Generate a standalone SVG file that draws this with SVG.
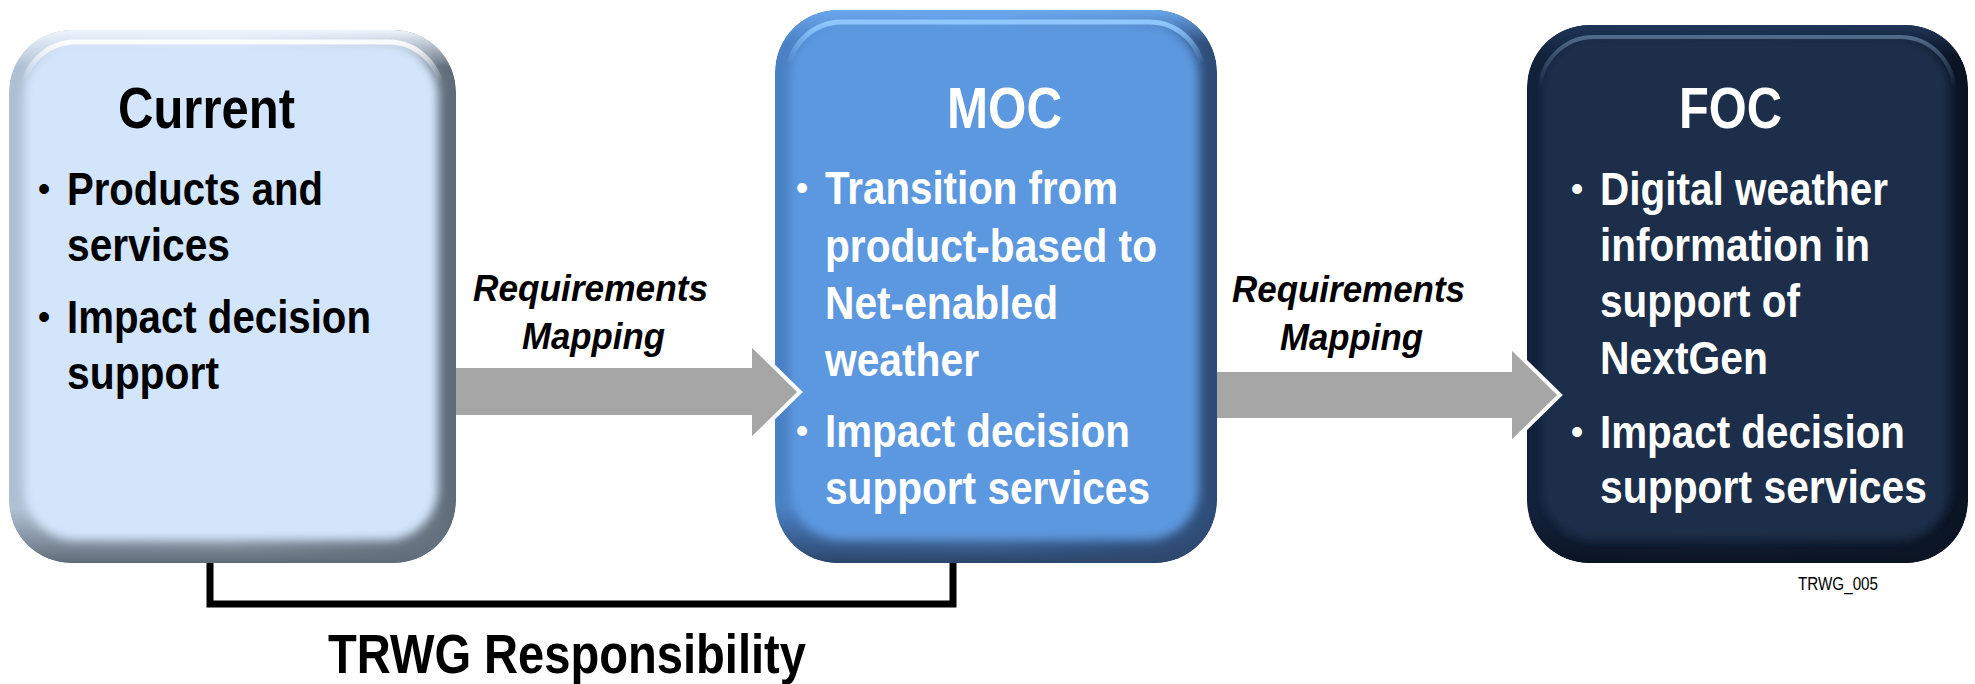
<svg xmlns="http://www.w3.org/2000/svg" width="1975" height="684" viewBox="0 0 1975 684">
<style>
.t{font-family:"Liberation Sans",Arial,sans-serif;font-weight:bold}
.title{font-size:57px}
.b{font-size:46px}
.bul{font-family:"Liberation Sans",Arial,sans-serif;font-size:36px}
.dk{fill:#000}
.wt{fill:#fff}
.lbl{font-family:"Liberation Sans",Arial,sans-serif;font-weight:bold;font-style:italic;font-size:36px;fill:#000}
.arrow{fill:#a6a6a6}
.tipline{fill:none;stroke:#fff;stroke-width:4;stroke-linejoin:miter}
.bracket{fill:none;stroke:#000;stroke-width:7;stroke-linejoin:miter}
</style>
<defs>
<filter id="soft" x="-10%" y="-10%" width="120%" height="120%"><feGaussianBlur stdDeviation="5"/></filter>
<linearGradient id="cH" x1="0" y1="0" x2="1" y2="0"><stop offset="0" stop-color="#aebfd2"/><stop offset="0.5" stop-color="#c3d3e5"/><stop offset="1" stop-color="#5d6a77"/></linearGradient>
<linearGradient id="cV" x1="0" y1="0" x2="0" y2="1"><stop offset="0" stop-color="#eef5fd" stop-opacity="1"/><stop offset="0.07" stop-color="#eef5fd" stop-opacity="0"/><stop offset="0.9" stop-color="#66727f" stop-opacity="0"/><stop offset="1" stop-color="#5f6b78" stop-opacity="1"/></linearGradient>
<linearGradient id="cHL" x1="0" y1="0" x2="0" y2="1"><stop offset="0" stop-color="#ffffff" stop-opacity="0.9"/><stop offset="0.08" stop-color="#ffffff" stop-opacity="0"/></linearGradient>
<linearGradient id="mH" x1="0" y1="0" x2="1" y2="0"><stop offset="0" stop-color="#4a80c4"/><stop offset="0.5" stop-color="#5a94d8"/><stop offset="1" stop-color="#2d4b76"/></linearGradient>
<linearGradient id="mV" x1="0" y1="0" x2="0" y2="1"><stop offset="0" stop-color="#6aa6ec" stop-opacity="1"/><stop offset="0.06" stop-color="#6aa6ec" stop-opacity="0"/><stop offset="0.9" stop-color="#2f4a72" stop-opacity="0"/><stop offset="1" stop-color="#2c456b" stop-opacity="1"/></linearGradient>
<linearGradient id="mHL" x1="0" y1="0" x2="0" y2="1"><stop offset="0" stop-color="#8fc8ff" stop-opacity="1"/><stop offset="0.08" stop-color="#8fc8ff" stop-opacity="0"/></linearGradient>
<linearGradient id="fH" x1="0" y1="0" x2="1" y2="0"><stop offset="0" stop-color="#12213a"/><stop offset="0.5" stop-color="#172a46"/><stop offset="1" stop-color="#0a1322"/></linearGradient>
<linearGradient id="fV" x1="0" y1="0" x2="0" y2="1"><stop offset="0" stop-color="#1f3557" stop-opacity="1"/><stop offset="0.06" stop-color="#1f3557" stop-opacity="0"/><stop offset="0.9" stop-color="#0c1626" stop-opacity="0"/><stop offset="1" stop-color="#0b1423" stop-opacity="1"/></linearGradient>
<linearGradient id="fHL" x1="0" y1="0" x2="0" y2="1"><stop offset="0" stop-color="#56708f" stop-opacity="0.9"/><stop offset="0.1" stop-color="#56708f" stop-opacity="0"/></linearGradient>
<clipPath id="clipC"><rect x="9" y="30" width="447" height="533" rx="62"/></clipPath>
<clipPath id="clipM"><rect x="775" y="10" width="442" height="553" rx="62"/></clipPath>
<clipPath id="clipF"><rect x="1527" y="25" width="441" height="538" rx="62"/></clipPath>
</defs>
<rect width="1975" height="684" fill="#fff"/>

<g id="node-current">
<g clip-path="url(#clipC)">
<rect x="9" y="30" width="447" height="533" rx="62" fill="url(#cH)"/>
<rect x="9" y="30" width="447" height="533" rx="62" fill="url(#cV)"/>
<rect x="24" y="44" width="414" height="496" rx="52" fill="#d3e5fb" filter="url(#soft)"/>
<rect x="22" y="42" width="420" height="500" rx="54" fill="none" stroke="url(#cHL)" stroke-width="5"/>
</g>
<text class="t title dk" x="118" y="128" textLength="177" lengthAdjust="spacingAndGlyphs">Current</text>
<text class="bul dk" x="44" y="201" text-anchor="middle">•</text>
<text class="t b dk" x="67" y="205" textLength="256" lengthAdjust="spacingAndGlyphs">Products and</text>
<text class="t b dk" x="67" y="261" textLength="163" lengthAdjust="spacingAndGlyphs">services</text>
<text class="bul dk" x="44" y="329" text-anchor="middle">•</text>
<text class="t b dk" x="67" y="333" textLength="304" lengthAdjust="spacingAndGlyphs">Impact decision</text>
<text class="t b dk" x="67" y="389" textLength="152" lengthAdjust="spacingAndGlyphs">support</text>
</g>

<g id="node-moc">
<g clip-path="url(#clipM)">
<rect x="775" y="10" width="442" height="553" rx="62" fill="url(#mH)"/>
<rect x="775" y="10" width="442" height="553" rx="62" fill="url(#mV)"/>
<rect x="790" y="24" width="409" height="516" rx="52" fill="#5c98df" filter="url(#soft)"/>
<rect x="788" y="22" width="415" height="520" rx="54" fill="none" stroke="url(#mHL)" stroke-width="5"/>
</g>
<text class="t title wt" x="947" y="128" textLength="115" lengthAdjust="spacingAndGlyphs">MOC</text>
<text class="bul wt" x="802" y="200" text-anchor="middle">•</text>
<text class="t b wt" x="825" y="204" textLength="293" lengthAdjust="spacingAndGlyphs">Transition from</text>
<text class="t b wt" x="825" y="262" textLength="332" lengthAdjust="spacingAndGlyphs">product-based to</text>
<text class="t b wt" x="825" y="319" textLength="233" lengthAdjust="spacingAndGlyphs">Net-enabled</text>
<text class="t b wt" x="825" y="376" textLength="154" lengthAdjust="spacingAndGlyphs">weather</text>
<text class="bul wt" x="802" y="443" text-anchor="middle">•</text>
<text class="t b wt" x="825" y="447" textLength="305" lengthAdjust="spacingAndGlyphs">Impact decision</text>
<text class="t b wt" x="825" y="504" textLength="325" lengthAdjust="spacingAndGlyphs">support services</text>
</g>

<g id="node-foc">
<g clip-path="url(#clipF)">
<rect x="1527" y="25" width="441" height="538" rx="62" fill="url(#fH)"/>
<rect x="1527" y="25" width="441" height="538" rx="62" fill="url(#fV)"/>
<rect x="1542" y="39" width="408" height="501" rx="52" fill="#1a2d4a" filter="url(#soft)"/>
<rect x="1540" y="37" width="414" height="505" rx="54" fill="none" stroke="url(#fHL)" stroke-width="4"/>
</g>
<text class="t title wt" x="1679" y="128" textLength="103" lengthAdjust="spacingAndGlyphs">FOC</text>
<text class="bul wt" x="1577" y="201" text-anchor="middle">•</text>
<text class="t b wt" x="1600" y="205" textLength="288" lengthAdjust="spacingAndGlyphs">Digital weather</text>
<text class="t b wt" x="1600" y="261" textLength="270" lengthAdjust="spacingAndGlyphs">information in</text>
<text class="t b wt" x="1600" y="317" textLength="200" lengthAdjust="spacingAndGlyphs">support of</text>
<text class="t b wt" x="1600" y="374" textLength="168" lengthAdjust="spacingAndGlyphs">NextGen</text>
<text class="bul wt" x="1577" y="444" text-anchor="middle">•</text>
<text class="t b wt" x="1600" y="448" textLength="305" lengthAdjust="spacingAndGlyphs">Impact decision</text>
<text class="t b wt" x="1600" y="503" textLength="327" lengthAdjust="spacingAndGlyphs">support services</text>
</g>

<g id="connectors">
<g id="arrow-current-moc">
<polygon class="arrow" points="456,368 752,368 752,347 798,392 752,437 752,415 456,415"/>
<polyline class="tipline" points="752,345 800,392 752,439"/>
<text class="lbl" x="473" y="301" textLength="235" lengthAdjust="spacingAndGlyphs">Requirements</text>
<text class="lbl" x="522" y="349" textLength="143" lengthAdjust="spacingAndGlyphs">Mapping</text>
</g>
<g id="arrow-moc-foc">
<polygon class="arrow" points="1217,372 1512,372 1512,350 1558,395 1512,440 1512,418 1217,418"/>
<polyline class="tipline" points="1512,348 1560,395 1512,442"/>
<text class="lbl" x="1232" y="302" textLength="233" lengthAdjust="spacingAndGlyphs">Requirements</text>
<text class="lbl" x="1280" y="350" textLength="143" lengthAdjust="spacingAndGlyphs">Mapping</text>
</g>
<g id="bracket-trwg">
<path class="bracket" d="M210,563 V604 H953 V563"/>
<text class="t dk" x="328" y="673" font-size="55" textLength="478" lengthAdjust="spacingAndGlyphs">TRWG Responsibility</text>
</g>
</g>

<text x="1798" y="590" font-family="'Liberation Sans',Arial,sans-serif" font-size="18" fill="#000" textLength="80" lengthAdjust="spacingAndGlyphs">TRWG_005</text>
</svg>
